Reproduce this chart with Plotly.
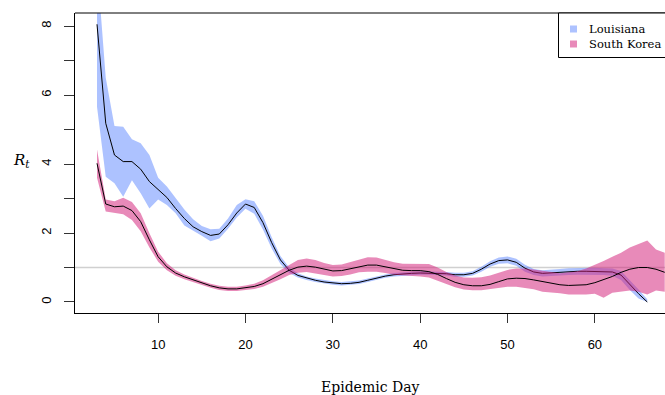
import plotly.graph_objects as go

# ---------------- data ----------------
days_la = list(range(3, 67))
la_mean = [8.05, 5.18, 4.26, 4.07, 4.07, 3.85, 3.49, 3.25, 3.03, 2.71,
           2.42, 2.18, 2.04, 1.93, 1.97, 2.24, 2.58, 2.84, 2.74, 2.30,
           1.72, 1.22, 0.92, 0.77, 0.69, 0.63, 0.58, 0.55, 0.53, 0.54,
           0.57, 0.63, 0.70, 0.75, 0.79, 0.82, 0.83, 0.84, 0.84, 0.84,
           0.82, 0.79, 0.79, 0.83, 0.95, 1.10, 1.20, 1.22, 1.15, 0.98,
           0.87, 0.83, 0.85, 0.86, 0.88, 0.89, 0.89, 0.89, 0.88, 0.87,
           0.78, 0.50, 0.24, 0.00]
la_upper = [9.8, 6.5, 5.10, 5.08, 4.72, 4.60, 4.26, 3.60, 3.35, 3.00,
            2.68, 2.40, 2.20, 2.11, 2.12, 2.42, 2.81, 2.98, 2.92, 2.50,
            1.88, 1.33, 1.00, 0.83, 0.74, 0.68, 0.63, 0.60, 0.58, 0.59,
            0.62, 0.68, 0.75, 0.80, 0.84, 0.87, 0.88, 0.89, 0.89, 0.89,
            0.87, 0.85, 0.85, 0.89, 1.02, 1.18, 1.29, 1.32, 1.25, 1.08,
            0.96, 0.92, 0.95, 0.96, 0.98, 0.99, 0.99, 0.99, 0.98, 0.97,
            0.90, 0.64, 0.36, 0.08]
la_lower = [5.66, 3.63, 3.44, 3.05, 3.53, 3.15, 2.71, 2.97, 2.81, 2.57,
            2.22, 2.06, 1.92, 1.76, 1.84, 2.12, 2.45, 2.70, 2.56, 2.10,
            1.55, 1.10, 0.84, 0.71, 0.64, 0.58, 0.53, 0.50, 0.48, 0.49,
            0.52, 0.58, 0.65, 0.70, 0.74, 0.77, 0.78, 0.79, 0.79, 0.79,
            0.77, 0.73, 0.73, 0.77, 0.88, 1.02, 1.11, 1.12, 1.05, 0.88,
            0.78, 0.74, 0.75, 0.76, 0.78, 0.79, 0.79, 0.79, 0.78, 0.76,
            0.64, 0.35, 0.10, 0.00]

days_sk = list(range(3, 69))
sk_mean = [4.02, 2.84, 2.76, 2.78, 2.65, 2.33, 1.80, 1.31, 1.02, 0.84,
           0.73, 0.64, 0.55, 0.47, 0.41, 0.38, 0.38, 0.41, 0.45, 0.53,
           0.66, 0.79, 0.92, 1.01, 1.04, 1.01, 0.95, 0.90, 0.91, 0.97,
           1.03, 1.07, 1.07, 1.02, 0.96, 0.92, 0.91, 0.91, 0.88, 0.80,
           0.68, 0.57, 0.50, 0.47, 0.47, 0.51, 0.59, 0.67, 0.69, 0.68,
           0.64, 0.59, 0.54, 0.50, 0.48, 0.48, 0.50, 0.56, 0.64, 0.74,
           0.86, 0.95, 1.00, 1.00, 0.95, 0.86]
sk_upper = [4.42, 2.97, 2.92, 3.02, 2.90, 2.57, 1.99, 1.46, 1.12, 0.92,
            0.80, 0.70, 0.61, 0.53, 0.47, 0.44, 0.44, 0.48, 0.53, 0.63,
            0.78, 0.93, 1.08, 1.22, 1.26, 1.22, 1.13, 1.07, 1.09, 1.16,
            1.24, 1.30, 1.29, 1.22, 1.15, 1.11, 1.10, 1.11, 1.10, 1.00,
            0.87, 0.77, 0.71, 0.70, 0.72, 0.77, 0.85, 0.93, 0.97, 0.97,
            0.94, 0.91, 0.86, 0.83, 0.86, 0.89, 0.97, 1.07, 1.19, 1.31,
            1.43, 1.58, 1.68, 1.78, 1.52, 1.43]
sk_lower = [3.60, 2.62, 2.58, 2.54, 2.38, 2.05, 1.58, 1.17, 0.92, 0.76,
            0.66, 0.58, 0.49, 0.41, 0.35, 0.32, 0.32, 0.35, 0.38, 0.44,
            0.55, 0.66, 0.78, 0.85, 0.87, 0.83, 0.78, 0.74, 0.75, 0.80,
            0.86, 0.88, 0.88, 0.84, 0.79, 0.76, 0.75, 0.74, 0.71, 0.63,
            0.52, 0.43, 0.36, 0.34, 0.34, 0.36, 0.40, 0.44, 0.44, 0.40,
            0.37, 0.30, 0.27, 0.25, 0.22, 0.21, 0.22, 0.24, 0.12, 0.27,
            0.30, 0.33, 0.30, 0.22, 0.33, 0.30]

x_ticks = [10, 20, 30, 40, 50, 60]
y_ticks = [0, 2, 4, 6, 8]
series_names = ["Louisiana", "South Korea"]
band_colors = ["rgba(51,102,255,0.4)", "rgba(210,30,120,0.52)"]

# ---------------- figure ----------------
W, H = 665, 395
ML, MR, MT, MB = 75, 0, 13, 82
PW, PH = W - ML - MR, H - MT - MB


def px_x(p):
    return (p - ML) / PW


def px_y(p):
    return (H - MB - p) / PH


fig = go.Figure()


def add_series(days, mean, lo, hi, color, name):
    fig.add_trace(go.Scatter(
        x=days + days[::-1], y=hi + lo[::-1], fill="toself",
        fillcolor=color, line=dict(width=0), mode="lines",
        hoverinfo="skip", showlegend=False, name=name + " band"))
    fig.add_trace(go.Scatter(
        x=days, y=mean, mode="lines", line=dict(color="black", width=1),
        showlegend=False, name=name))


add_series(days_la, la_mean, la_lower, la_upper, band_colors[0], series_names[0])
add_series(days_sk, sk_mean, sk_lower, sk_upper, band_colors[1], series_names[1])

# reference line at R_t = 1
fig.add_shape(type="line", xref="paper", yref="y", x0=0, x1=1, y0=1, y1=1,
              line=dict(color="#d0d0d0", width=1.5), layer="below")

# top border of the box
fig.add_shape(type="line", xref="paper", yref="paper", x0=0, x1=1.02, y0=1, y1=1,
              line=dict(color="black", width=1))

# manual legend (box, swatches, labels)
fig.add_shape(type="rect", xref="paper", yref="paper",
              x0=px_x(558.5), x1=px_x(680), y0=px_y(57.5), y1=1,
              line=dict(color="black", width=1), fillcolor="white")
for i, (nm, col) in enumerate(zip(series_names, band_colors)):
    cy = 29 + 15 * i
    fig.add_shape(type="rect", xref="paper", yref="paper",
                  x0=px_x(570), x1=px_x(577), y0=px_y(cy + 3.5), y1=px_y(cy - 3.5),
                  line=dict(width=0), fillcolor=col)
    fig.add_annotation(x=px_x(587), y=px_y(cy), xref="paper", yref="paper",
                       text=nm, showarrow=False, xanchor="left", yanchor="middle",
                       font=dict(family="DejaVu Serif", size=11.5, color="black"))

# axis titles
fig.add_annotation(x=0.5, y=px_y(387), xref="paper", yref="paper",
                   text="Epidemic Day", showarrow=False, xanchor="center",
                   yanchor="middle",
                   font=dict(family="DejaVu Serif", size=14, color="black"))
fig.add_annotation(x=px_x(21), y=px_y(160), xref="paper", yref="paper",
                   text="<i>R</i><sub><i>t</i></sub>", showarrow=False,
                   xanchor="center", yanchor="middle",
                   font=dict(family="DejaVu Serif", size=15, color="black"))

fig.update_layout(
    width=W, height=H,
    margin=dict(l=ML, r=MR, t=MT, b=MB, pad=0),
    paper_bgcolor="white", plot_bgcolor="white",
    showlegend=False,
    xaxis=dict(range=[0.48, 68.03], tickvals=x_ticks, ticks="outside",
               ticklen=9, tickcolor="#333333", showgrid=False, zeroline=False,
               showline=True, linecolor="black", linewidth=1,
               tickfont=dict(family="Liberation Sans", size=13, color="black"),
               ticklabelstandoff=10),
    yaxis=dict(range=[-0.319, 8.377], tickmode="linear", tick0=0, dtick=2,
               ticks="outside", ticklen=10, tickcolor="#333333", tickangle=-90,
               minor=dict(tickmode="linear", tick0=0, dtick=1, ticks="outside",
                          ticklen=10, tickcolor="#333333", showgrid=False),
               showgrid=False, zeroline=False, showline=True,
               linecolor="black", linewidth=1,
               tickfont=dict(family="Liberation Sans", size=13, color="black"),
               ticklabelstandoff=8),
)

fig.write_html("out.html",
               config={"displayModeBar": False},
               post_script="document.body.style.margin='0px';"
                           "document.body.style.overflow='hidden';")
